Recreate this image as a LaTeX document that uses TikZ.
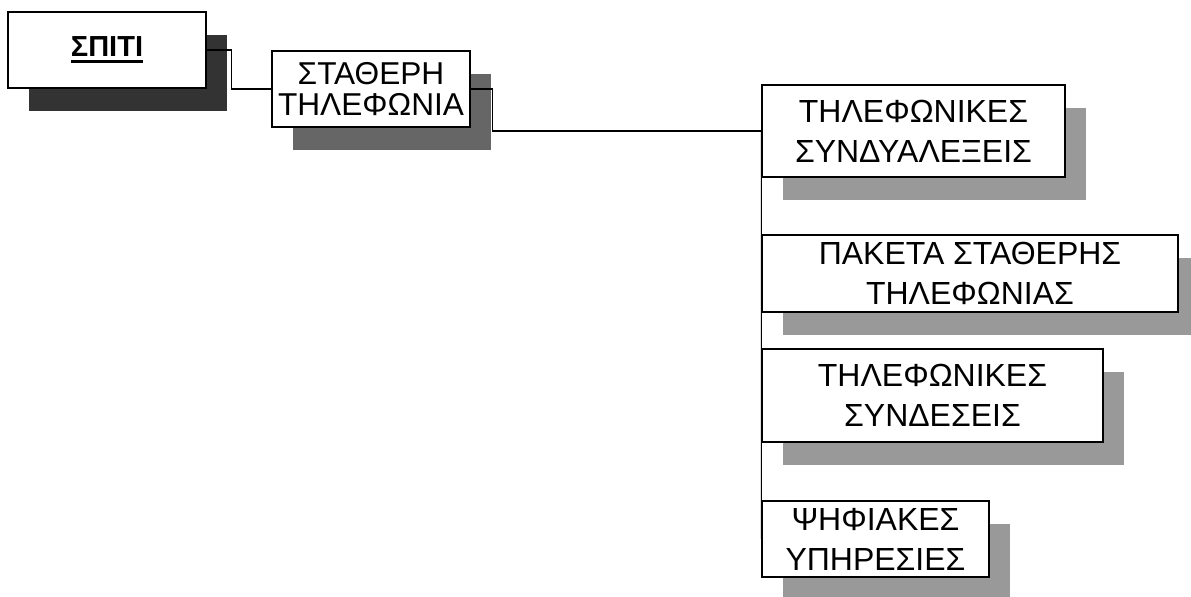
\documentclass[tikz,border=0pt]{standalone}
\usepackage{fontspec}
\setmainfont{Liberation Sans}
\usepackage{tikz}
\usetikzlibrary{shapes,arrows,positioning,shadows}
\newcommand{\thickul}[1]{\vtop{\hbox{#1}\kern2.2pt\hrule height 1.7pt}}

\begin{document}
\begin{tikzpicture}[x=0.02cm,y=-0.02cm,
	box/.style={draw=black,fill=white,line width=0.8pt,align=center,inner sep=0pt,
		drop shadow={shadow xshift=0.42cm,shadow yshift=-0.46cm,opacity=1,fill=#1}},
	link/.style={draw=black,line width=0.6pt}]
	\useasboundingbox (0,0) rectangle (1191,596);
	%% the boxes
	\node[box=black!80,minimum width=3.96cm,minimum height=1.52cm,
	font=\fontsize{16.5}{19}\selectfont\bfseries] (spiti) at (107,50) {\thickul{ΣΠΙΤΙ}};
	\node[box=black!60,minimum width=3.96cm,minimum height=1.52cm,
	font=\fontsize{18}{17.5}\selectfont] (stathera) at (371,89) {ΣΤΑΘΕΡΗ\\ΤΗΛΕΦΩΝΙΑ};
	\node[box=black!40,minimum width=6.06cm,minimum height=1.84cm,
	font=\fontsize{18.2}{22.8}\selectfont] (syndyal) at (913.5,131) {ΤΗΛΕΦΩΝΙΚΕΣ\\ΣΥΝΔΥΑΛΕΞΕΙΣ};
	\node[box=black!40,minimum width=8.32cm,minimum height=1.54cm,
	font=\fontsize{18.2}{22.8}\selectfont] (paketa) at (970,273.5) {ΠΑΚΕΤΑ ΣΤΑΘΕΡΗΣ\\ΤΗΛΕΦΩΝΙΑΣ};
	\node[box=black!40,minimum width=6.82cm,minimum height=1.86cm,
	font=\fontsize{18.2}{22.8}\selectfont] (syndeseis) at (932.5,395.5) {ΤΗΛΕΦΩΝΙΚΕΣ\\ΣΥΝΔΕΣΕΙΣ};
	\node[box=black!40,minimum width=4.54cm,minimum height=1.52cm,
	font=\fontsize{18.2}{22.8}\selectfont] (psifiakes) at (875.5,539) {ΨΗΦΙΑΚΕΣ\\ΥΠΗΡΕΣΙΕΣ};
	%% the connectors
	\draw[link] (spiti.east) -- ++(25,0) |- (stathera.west);
	\draw[link] (stathera.east) -- ++(22,0) |- (syndyal.west);
	\draw[link] (syndyal.west) -- (psifiakes.west);
\end{tikzpicture}
\end{document}
